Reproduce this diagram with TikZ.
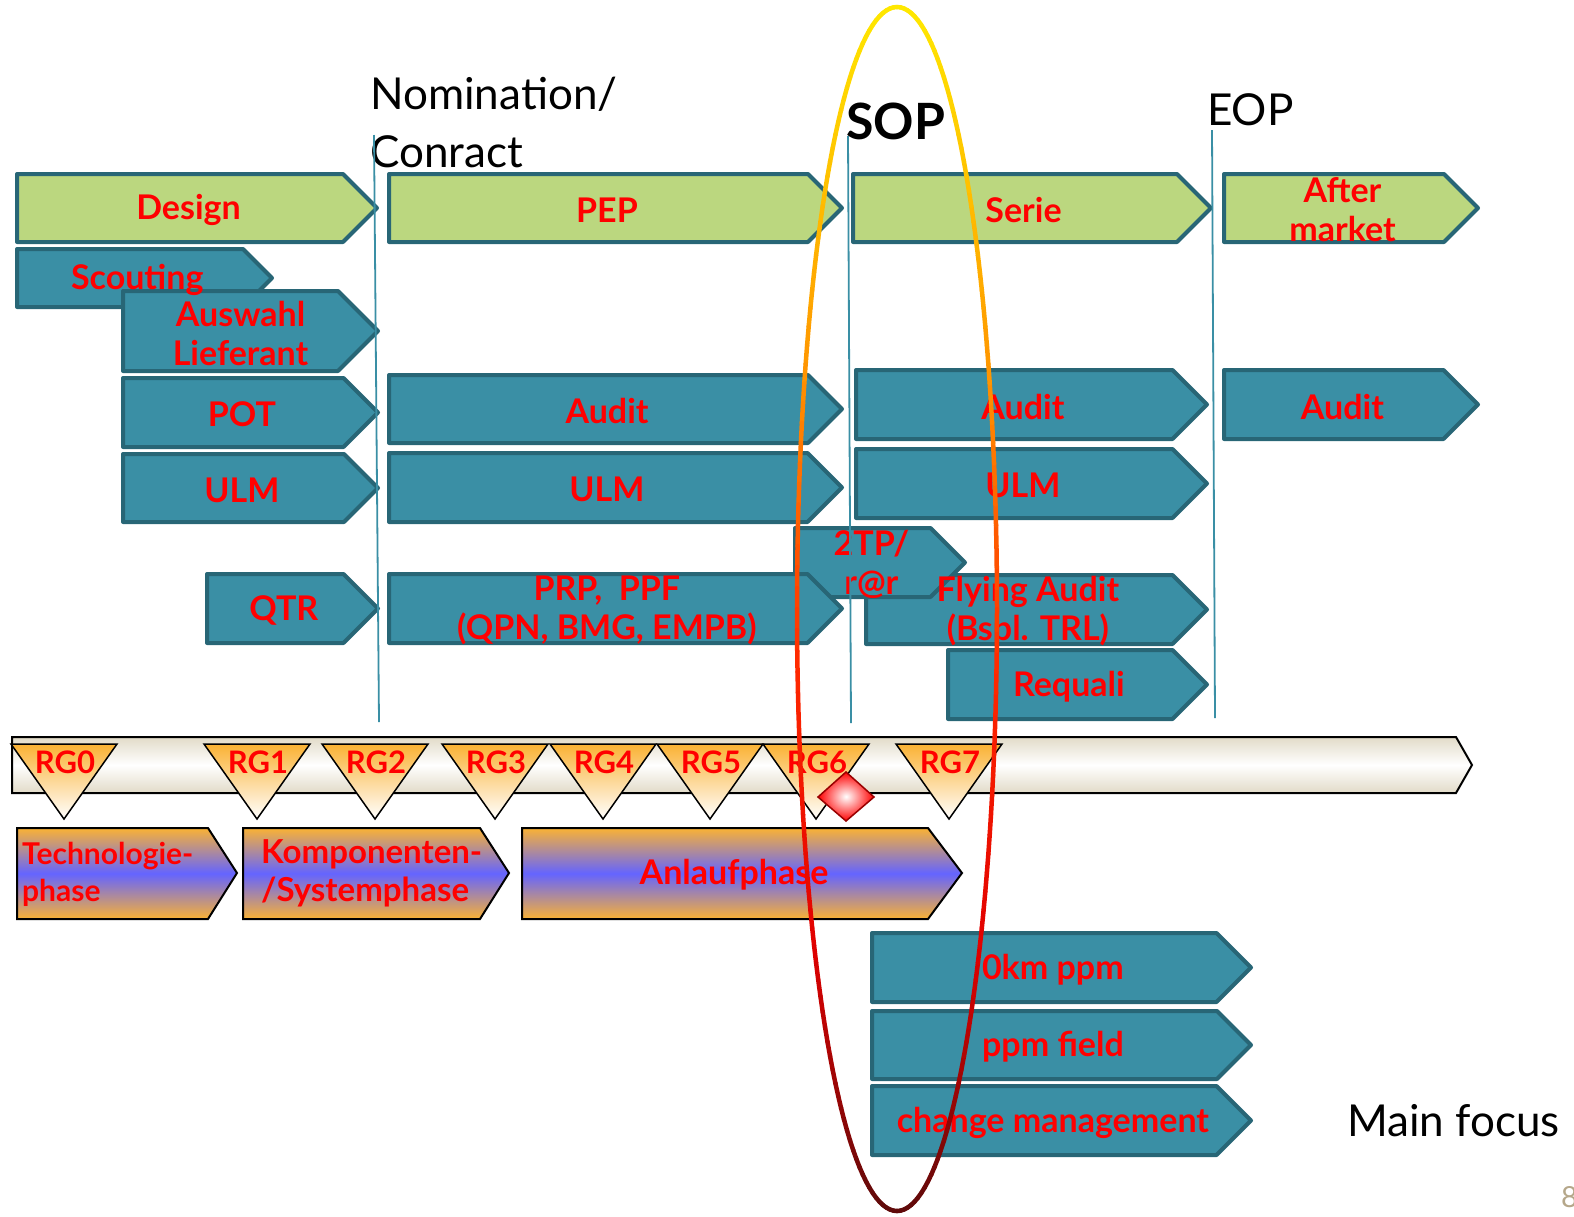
\documentclass[tikz,border=0pt]{standalone}
\usepackage{fontspec}
\setmainfont{Lato}
\usepackage{graphicx}
\pgfdeclarelayer{labels}
\pgfdeclarelayer{top}
\pgfsetlayers{main,labels,top}

\definecolor{tealfill}{RGB}{58,143,165}
\definecolor{tealline}{RGB}{40,102,118}
\definecolor{greenfill}{RGB}{187,215,127}
\definecolor{rgorange}{RGB}{250,178,52}
\definecolor{phaseblue}{RGB}{100,100,255}
\definecolor{barbeige}{RGB}{226,219,200}
\definecolor{pagenum}{RGB}{181,167,138}
\definecolor{ring0}{RGB}{255,232,0}
\definecolor{ring1}{RGB}{255,150,0}
\definecolor{ring2}{RGB}{255,40,0}
\definecolor{ring3}{RGB}{225,0,0}
\definecolor{ring4}{RGB}{95,10,10}

% arrow box: style, name, x left, x tip, y top, y bottom, text
\newcommand{\harrow}[7]{%
  \pgfmathsetmacro\hd{(#6-#5)/2}
  \draw[#1] (#3,#5) -- ({#4-\hd},#5) -- (#4,{(#5+#6)/2}) -- ({#4-\hd},#6) -- (#3,#6) -- cycle;
  \begin{pgfonlayer}{labels}
    \node[lbl] (#2) at ({(#3+#4)/2-\hd/4},{(#5+#6)/2+2}) {#7};
  \end{pgfonlayer}
}

\begin{document}
\begin{tikzpicture}
  [x=1pt,y=-1pt,
   teal arrow/.style={fill=tealfill,draw=tealline,line width=4pt,line join=round},
   green arrow/.style={fill=greenfill,draw=tealline,line width=4pt,line join=round},
   phase arrow/.style={draw=black,line width=2pt,top color=rgorange,bottom color=rgorange,middle color=phaseblue},
   bar/.style={draw=black,line width=2pt,top color=barbeige,bottom color=barbeige,middle color=white},
   gate/.style={draw=black,line width=1.5pt,top color=rgorange,bottom color=white},
   lbl/.style={text=red,font=\bfseries\fontsize{34}{39}\selectfont,align=center,inner sep=0pt},
   gatelbl/.style={text=red,font=\bfseries\fontsize{31}{32}\selectfont,inner sep=0pt},
   phaselbl/.style={text=red,font=\bfseries\fontsize{30}{37}\selectfont,align=left,inner sep=0pt,anchor=west},
   milestone/.style={font=\fontsize{44}{58}\selectfont,align=left,inner sep=0pt},
   vline/.style={draw=tealfill,line width=1.8pt}]
  \useasboundingbox (0,0) rectangle (1574,1216);

  % milestones
  \node[milestone,anchor=west] (nomination) at (370,122) {Nomination/\\Conract};
  \node[milestone,anchor=base west,font=\bfseries\fontsize{50}{54}\selectfont] (sop) at (846,139) {SOP};
  \node[milestone,anchor=base west] (eop) at (1207,125) {EOP};

  % phases
  \harrow{green arrow}{design}{17}{377}{174}{242}{Design}
  \harrow{green arrow}{pep}{389}{842}{174}{242}{PEP}
  \harrow{green arrow}{serie}{853}{1211}{174}{242}{Serie}
  \harrow{green arrow}{after}{1224}{1478}{174}{242}{After\\market}

  % activities
  \harrow{teal arrow}{scouting}{17}{272}{249}{307}{Scouting}
  \harrow{teal arrow}{auswahl}{123}{378}{291}{371}{Auswahl\\Lieferant}
  \harrow{teal arrow}{pot}{123}{378}{378}{447}{POT}
  \harrow{teal arrow}{ulmA}{123}{378}{454}{522}{ULM}
  \harrow{teal arrow}{qtr}{207}{378}{574}{643}{QTR}
  \harrow{teal arrow}{auditB}{389}{842}{375}{443}{Audit}
  \harrow{teal arrow}{ulmB}{389}{842}{453}{522}{ULM}
  \harrow{teal arrow}{flying}{866}{1207}{575}{644}{Flying Audit\\(Bspl. TRL)}
  \harrow{teal arrow}{tptr}{795}{965}{528}{597}{2TP/\\r@r}
  \harrow{teal arrow}{prp}{389}{842}{574}{643}{PRP,~ PPF\\(QPN, BMG, EMPB)}
  \harrow{teal arrow}{requali}{948}{1207}{650}{719}{Requali}
  \harrow{teal arrow}{auditC}{856}{1207}{370}{439}{Audit}
  \harrow{teal arrow}{ulmC}{856}{1207}{449}{518}{ULM}
  \harrow{teal arrow}{auditD}{1224}{1478}{370}{439}{Audit}

  % gates
  \draw[bar] (12,737) -- (1456,737) -- (1472,765) -- (1456,793) -- (12,793) -- cycle;
  \foreach \i/\x in {0/64,1/257,2/375,3/495,4/603,5/710,6/816,7/949}{
    \draw[gate] ({\x-53},744) -- ({\x+53},744) -- (\x,819) -- cycle;
    \node[gatelbl] (rg\i) at ({\x+1},762) {RG\i};
  }
  \draw[draw=red!60!black,line width=1.5pt,inner color=white,outer color=red]
    (846,772) -- (874,797) -- (846,821) -- (818,797) -- cycle;

  \draw[phase arrow] (17,828) -- (208,828) -- (237,873) -- (208,919) -- (17,919) -- cycle;
  \node[phaselbl] (techno) at (22,874) {Technologie-\\phase};
  \draw[phase arrow] (243,828) -- (480,828) -- (509,873) -- (480,919) -- (243,919) -- cycle;
  \node[phaselbl,font=\bfseries\fontsize{33}{38}\selectfont] (kompo) at (261,873) {Komponenten-\\/Systemphase};
  \draw[phase arrow] (522,828) -- (928,828) -- (962,873) -- (928,919) -- (522,919) -- cycle;
  \node[lbl] (anlauf) at (734,875) {Anlaufphase};

  % series
  \harrow{teal arrow}{zerokm}{872}{1251}{933}{1002}{0km ppm}
  \harrow{teal arrow}{field}{872}{1251}{1011}{1079}{ppm field}
  \harrow{teal arrow}{change}{872}{1251}{1086}{1155}{change management}

  \node[milestone,anchor=base west] (focus) at (1347,1136) {Main focus};
  \node[anchor=base west,inner sep=0pt,text=pagenum,font=\fontsize{29}{30}\selectfont] (page) at (1561,1207) {8};

  \begin{pgfonlayer}{top}
    \draw[vline] (374,135) -- (379,722);
    \draw[vline] (848,136) -- (851,723);
    \draw[vline] (1212,130) -- (1215,718);
    % main focus ring
    \foreach \t in {0,2,...,358}{
      \pgfmathsetmacro\f{50*(1-sin(\t+1))}
      \pgfmathtruncatemacro\seg{\f<30 ? 0 : (\f<55 ? 1 : (\f<78 ? 2 : 3))}
      \ifcase\seg
        \pgfmathtruncatemacro\p{100*\f/30}\colorlet{ringc}{ring1!\p!ring0}
      \or
        \pgfmathtruncatemacro\p{100*(\f-30)/25}\colorlet{ringc}{ring2!\p!ring1}
      \or
        \pgfmathtruncatemacro\p{100*(\f-55)/23}\colorlet{ringc}{ring3!\p!ring2}
      \else
        \pgfmathtruncatemacro\p{100*(\f-78)/22}\colorlet{ringc}{ring4!\p!ring3}
      \fi
      \draw[ringc,line width=4.5pt,line cap=round]
        ({897+100*cos(\t)},{609-602*sin(\t)}) -- ({897+100*cos(\t+2)},{609-602*sin(\t+2)});
    }
  \end{pgfonlayer}
\end{tikzpicture}
\end{document}
